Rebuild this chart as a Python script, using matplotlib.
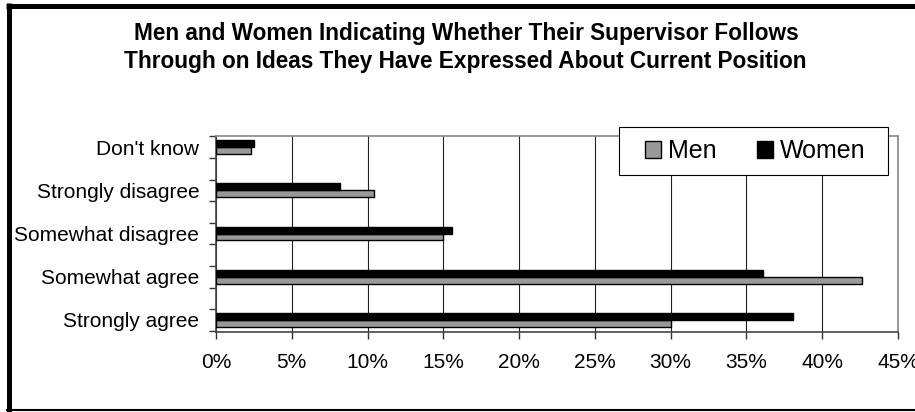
import numpy as np
import matplotlib.pyplot as plt
from matplotlib.lines import Line2D
from matplotlib.patches import Rectangle

plt.rcParams['font.family'] = ['Liberation Sans', 'DejaVu Sans']

categories = ["Strongly agree", "Somewhat agree", "Somewhat disagree",
              "Strongly disagree", "Don't know"]
men = [30.0, 42.6, 15.0, 10.4, 2.3]
women = [38.1, 36.1, 15.6, 8.2, 2.5]
xticks = [0, 5, 10, 15, 20, 25, 30, 35, 40, 45]

W, H = 915, 412
fig = plt.figure(figsize=(W / 100, H / 100), dpi=100)
ax = fig.add_axes([216 / W, 1 - 332 / H, 682 / W, 196 / H])

y = np.arange(len(categories))
h = 0.16
ax.barh(y - h / 2, men, height=h, color='#999999', edgecolor='black',
        linewidth=1.0, label='Men', zorder=3)
ax.barh(y + h / 2, women, height=h, color='black', edgecolor='black',
        linewidth=1.0, label='Women', zorder=3)

ax.set_xlim(0, 45)
ax.set_ylim(-0.28, 4.26)
ax.set_xticks(xticks)
ax.set_xticklabels([f'{v}%' for v in xticks], fontsize=15)
ax.set_yticks(y)
ax.set_yticklabels(categories, fontsize=15)
ax.set_yticks(np.arange(-0.25, 4.3, 0.5), minor=True)
ax.tick_params(axis='y', which='major', length=0, pad=12)
ax.tick_params(axis='y', which='minor', length=5, width=1, color='#333333')
ax.tick_params(axis='x', length=5, width=1, color='#333333', pad=10)

ax.grid(axis='x', color='#222222', linewidth=0.8, zorder=0)
for side in ['top', 'right']:
    ax.spines[side].set_color('#888888')
    ax.spines[side].set_linewidth(1.2)
for side in ['left', 'bottom']:
    ax.spines[side].set_color('#444444')
    ax.spines[side].set_linewidth(1.2)

# legend box drawn separately so the padding can be wider than tall
box = Rectangle((619 / W, 1 - 175 / H), 269 / W, 48 / H, transform=fig.transFigure,
                facecolor='white', edgecolor='black', linewidth=0.8, zorder=4,
                clip_on=False)
ax.add_patch(box)
leg = ax.legend(loc='center', bbox_to_anchor=(755 / W, 1 - 151 / H),
                bbox_transform=fig.transFigure, ncol=2, fontsize=18,
                frameon=False, handlelength=0.65, handleheight=0.65,
                handletextpad=0.28, columnspacing=1.6, borderpad=0,
                borderaxespad=0)
leg.set_zorder(5)

fig.text(466 / W, 1 - 40 / H, 'Men and Women Indicating Whether Their Supervisor Follows',
         ha='center', va='baseline', fontsize=16.3, fontweight='bold')
fig.text(465 / W, 1 - 68 / H, 'Through on Ideas They Have Expressed About Current Position',
         ha='center', va='baseline', fontsize=16.3, fontweight='bold')

# chart frame: heavy left/top edge, thin bottom edge
fig.add_artist(Line2D([8.5 / W, 8.5 / W], [0, 1 - 3 / H], color='black',
                      linewidth=3.6, solid_capstyle='butt'))
fig.add_artist(Line2D([6 / W, 1], [1 - 5.5 / H, 1 - 5.5 / H], color='black',
                      linewidth=3.6, solid_capstyle='butt'))
fig.add_artist(Line2D([6 / W, 1], [1 - 410 / H, 1 - 410 / H], color='black',
                      linewidth=1.5, solid_capstyle='butt'))

fig.savefig('out.png', dpi=100)
